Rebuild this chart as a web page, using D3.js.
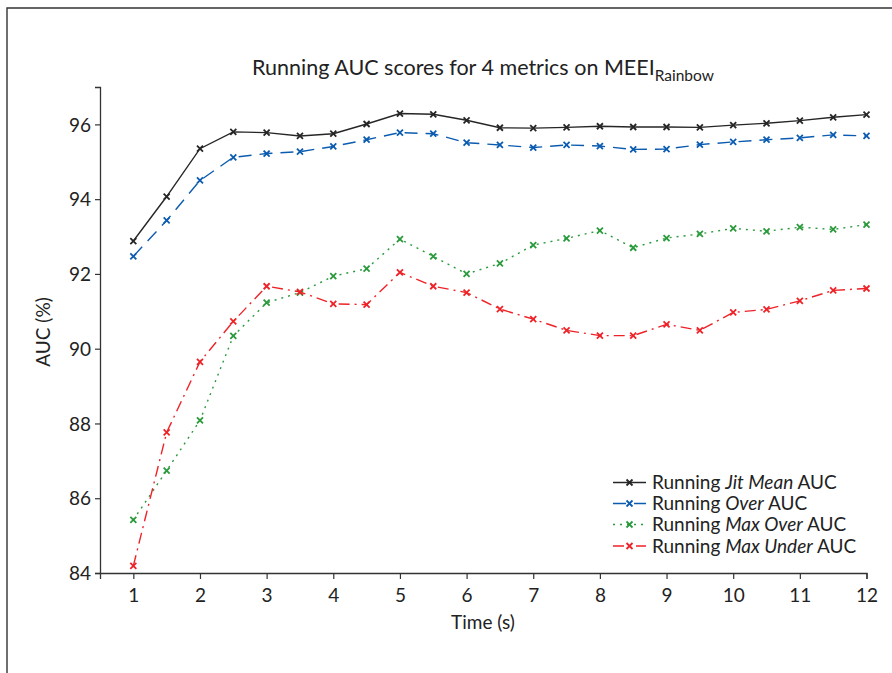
<!DOCTYPE html>
<html>
<head>
<meta charset="utf-8">
<script src="https://cdn.jsdelivr.net/npm/d3@7"></script>
<style>
  html, body { margin: 0; padding: 0; background: #fff; }
  svg text { font-family: Lato, "Open Sans", sans-serif; fill: #222; }
</style>
</head>
<body>
<svg id="chart" width="892" height="673"></svg>
<script>
// Time points (s)
const times = [1, 1.5, 2, 2.5, 3, 3.5, 4, 4.5, 5, 5.5, 6, 6.5, 7, 7.5, 8, 8.5, 9, 9.5, 10, 10.5, 11, 11.5, 12];

// Running AUC (%) per metric
const jitMean   = [92.88, 94.07, 95.35, 95.80, 95.78, 95.69, 95.75, 96.01, 96.29, 96.27, 96.11, 95.91, 95.90, 95.92, 95.95, 95.93, 95.93, 95.92, 95.98, 96.03, 96.10, 96.19, 96.26];
const over      = [92.47, 93.43, 94.50, 95.12, 95.22, 95.27, 95.41, 95.59, 95.78, 95.75, 95.51, 95.45, 95.38, 95.45, 95.42, 95.33, 95.34, 95.46, 95.53, 95.59, 95.64, 95.72, 95.69];
const maxOver   = [85.42, 86.74, 88.08, 90.34, 91.23, 91.50, 91.94, 92.14, 92.93, 92.47, 92.00, 92.28, 92.77, 92.95, 93.16, 92.70, 92.96, 93.07, 93.22, 93.14, 93.25, 93.19, 93.32];
const maxUnder  = [84.19, 87.76, 89.65, 90.73, 91.67, 91.52, 91.20, 91.18, 92.04, 91.67, 91.50, 91.06, 90.79, 90.49, 90.35, 90.35, 90.65, 90.49, 90.97, 91.05, 91.28, 91.56, 91.61];

const xTicks = [1, 2, 3, 4, 5, 6, 7, 8, 9, 10, 11, 12];
const yTicks = [84, 86, 88, 90, 92, 94, 96];

const seriesNames = ["Jit Mean", "Over", "Max Over", "Max Under"];
const seriesValues = [jitMean, over, maxOver, maxUnder];
const seriesColors = ["#262626", "#0b5cb0", "#2a9a3c", "#ee2328"];
const seriesDash = ["none", "13,8", "2,5", "11,5,2,5"];

const svg = d3.select("#chart");

// page frame
svg.append("path")
  .attr("d", "M7,673 L7,8 L892,8")
  .attr("fill", "none")
  .attr("stroke", "#333")
  .attr("stroke-width", 1.4);

const x = d3.scaleLinear().domain([0.5, 12]).range([100, 866.5]);
const y = d3.scaleLinear().domain([84, 97]).range([573, 87]);

// axes
const gx = svg.append("g")
  .attr("transform", `translate(0,${y(84)})`)
  .call(d3.axisBottom(x).tickValues(xTicks).tickSize(6).tickPadding(6).tickFormat(d3.format("d")));
const gy = svg.append("g")
  .attr("transform", `translate(${x(0.5)},0)`)
  .call(d3.axisLeft(y).tickValues(yTicks).tickSize(5).tickPadding(4).tickFormat(d3.format("d")));

[gx, gy].forEach(g => {
  g.select(".domain").attr("stroke", "#333").attr("stroke-width", 1.3);
  g.selectAll(".tick line").attr("stroke", "#333").attr("stroke-width", 1.2);
  g.selectAll(".tick text").style("font-size", "19px").attr("fill", "#222");
});
gx.selectAll(".tick text").attr("dy", "0.9em");
gy.selectAll(".tick text").attr("dy", "0.35em");

// axis titles
svg.append("text")
  .attr("x", 483).attr("y", 629)
  .attr("text-anchor", "middle")
  .style("font-size", "19px")
  .text("Time (s)");

svg.append("text")
  .attr("transform", "translate(50,332) rotate(-90)")
  .attr("text-anchor", "middle")
  .style("font-size", "19px")
  .text("AUC (%)");

// chart title with subscript
const title = svg.append("text")
  .attr("x", 483).attr("y", 75)
  .attr("text-anchor", "middle")
  .style("font-size", "21.5px");
title.append("tspan").text("Running AUC scores for 4 metrics on MEEI");
title.append("tspan").attr("dy", 6).style("font-size", "15.5px").text("Rainbow");

// series lines and markers
const line = d3.line().x((d, i) => x(times[i])).y(d => y(d));

function cross(g, cx, cy, color, r) {
  g.append("path")
    .attr("d", `M${cx - r},${cy - r}L${cx + r},${cy + r}M${cx - r},${cy + r}L${cx + r},${cy - r}`)
    .attr("stroke", color)
    .attr("stroke-width", 1.8)
    .attr("fill", "none");
}

seriesValues.forEach((vals, s) => {
  const g = svg.append("g");
  g.append("path")
    .datum(vals)
    .attr("d", line)
    .attr("fill", "none")
    .attr("stroke", seriesColors[s])
    .attr("stroke-width", 1.4)
    .attr("stroke-dasharray", seriesDash[s]);
  vals.forEach((v, i) => cross(g, x(times[i]), y(v), seriesColors[s], 3));
});

// legend
const legendRows = [482.5, 503.5, 524.5, 546];
seriesNames.forEach((name, s) => {
  const ly = legendRows[s];
  const g = svg.append("g");
  g.append("line")
    .attr("x1", 613).attr("x2", 646)
    .attr("y1", ly).attr("y2", ly)
    .attr("stroke", seriesColors[s])
    .attr("stroke-width", 1.4)
    .attr("stroke-dasharray", seriesDash[s]);
  cross(g, 629.5, ly, seriesColors[s], 3);
  const t = g.append("text")
    .attr("x", 652).attr("y", ly)
    .attr("dy", "0.35em")
    .style("font-size", "19px");
  t.append("tspan").text("Running ");
  t.append("tspan").style("font-style", "italic").text(name);
  t.append("tspan").text(" AUC");
});
</script>
</body>
</html>
